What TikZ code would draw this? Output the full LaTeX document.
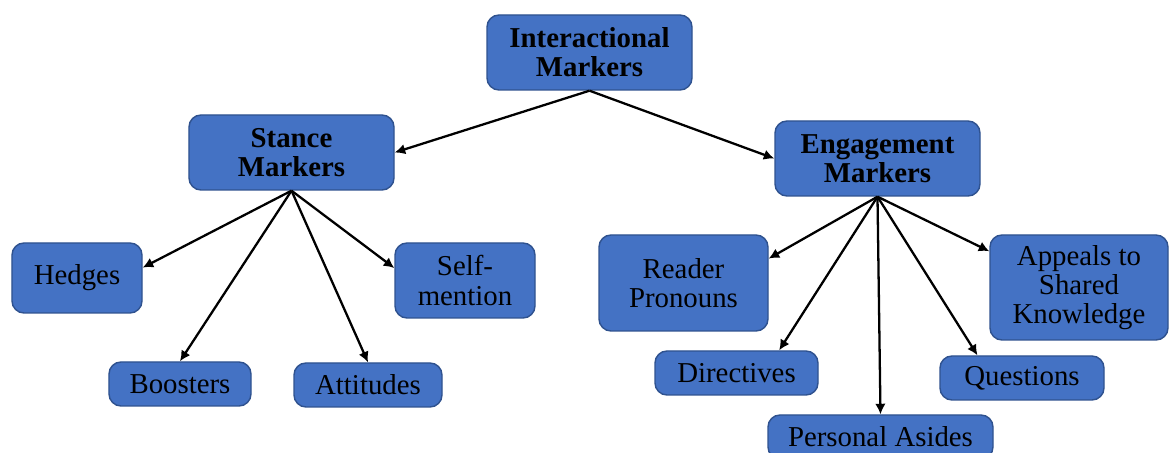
\documentclass[tikz,border=0pt]{standalone}
\usepackage{fontspec}
\setmainfont{Liberation Serif}
\usetikzlibrary{arrows.meta}
\definecolor{boxblue}{HTML}{4472C4}
\definecolor{boxedge}{HTML}{2F528F}
\tikzset{
  markbox/.style={draw=boxedge, line width=0.8pt, fill=boxblue, rounded corners=0.24cm,
    align=center, inner sep=0pt, font=\fontsize{16.4}{16.6}\selectfont},
  topbox/.style={markbox, font=\fontsize{16.4}{16.6}\selectfont\bfseries},
  link/.style={-{Latex[length=2.1mm,width=2.1mm]}, line width=1.3pt, black}
}
\begin{document}
\begin{tikzpicture}[x=0.2mm, y=-0.2mm]
  \useasboundingbox (0,0) rectangle (1170,453);
  \clip (0,0) rectangle (1170,453);
  % top level
  \node[topbox, minimum width=4.1cm, minimum height=1.5cm] (inter) at (589.5,52.5) {Interactional\\Markers};
  % second level
  \node[topbox, minimum width=4.1cm, minimum height=1.5cm] (stance) at (291.5,152.5) {Stance\\Markers};
  \node[topbox, minimum width=4.1cm, minimum height=1.5cm] (engage) at (877.5,158.5) {Engagement\\Markers};
  % stance leaves
  \node[markbox, minimum width=2.6cm, minimum height=1.4cm] (hedges) at (77,278) {Hedges};
  \node[markbox, minimum width=2.84cm, minimum height=0.88cm] (boosters) at (180,384) {Boosters};
  \node[markbox, minimum width=2.96cm, minimum height=0.88cm] (attitudes) at (368,385) {Attitudes};
  \node[markbox, minimum width=2.8cm, minimum height=1.5cm] (selfmention) at (465,280.5) {Self-\\mention};
  % engagement leaves
  \node[markbox, minimum width=3.38cm, minimum height=1.92cm] (reader) at (683.5,283) {Reader\\Pronouns};
  \node[markbox, minimum width=3.26cm, minimum height=0.88cm] (directives) at (736.5,373) {Directives};
  \node[markbox, minimum width=4.5cm, minimum height=0.88cm] (asides) at (880.5,437) {Personal Asides};
  \node[markbox, minimum width=3.28cm, minimum height=0.88cm] (questions) at (1022,378) {Questions};
  \node[markbox, minimum width=3.56cm, minimum height=2.1cm] (appeals) at (1079,287.5) {Appeals to\\Shared\\Knowledge};
  % connectors
  \draw[link] (inter.south) -- (stance.east);
  \draw[link] (inter.south) -- (engage.west);
  \draw[link] (stance.south) -- (hedges.9);
  \draw[link] (stance.south) -- (boosters.north);
  \draw[link] (stance.south) -- (attitudes.north);
  \draw[link] (stance.south) -- (selfmention.170);
  \draw[link] (engage.south) -- (reader.16);
  \draw[link] (engage.south) -- (directives.28);
  \draw[link] (engage.south) -- (asides.north);
  \draw[link] (engage.south) -- (questions.153);
  \draw[link] (engage.south) -- (appeals.158);
\end{tikzpicture}
\end{document}
